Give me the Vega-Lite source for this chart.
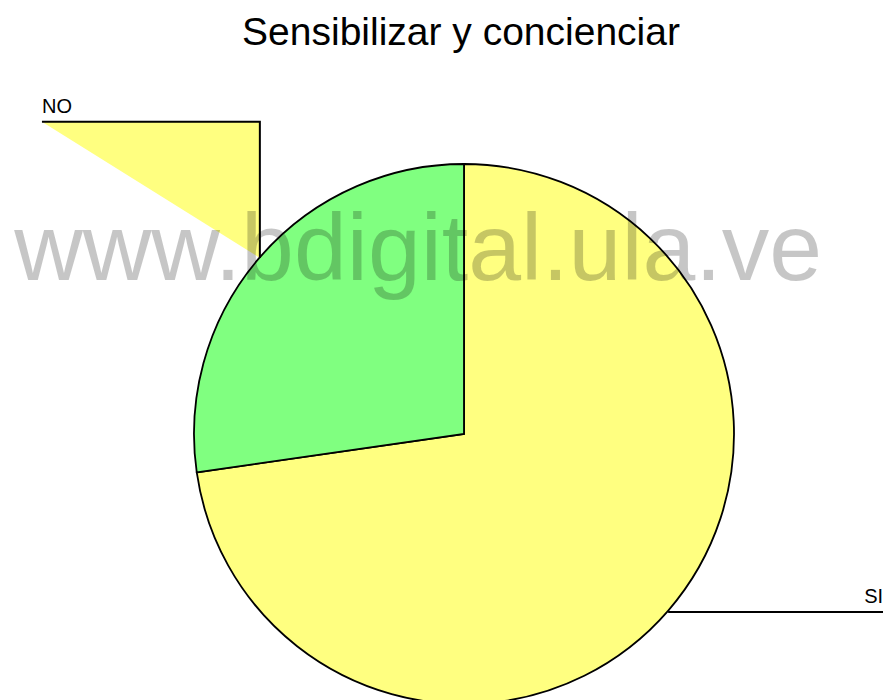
{
  "$schema": "https://vega.github.io/schema/vega-lite/v6.json",
  "autosize": {"type": "none"},
  "padding": {"left": 46, "top": 168, "right": 1, "bottom": 0},
  "width": 836,
  "height": 532,
  "background": "white",
  "title": {
    "text": "Sensibilizar y concienciar",
    "font": "Liberation Sans",
    "fontSize": 39,
    "fontWeight": "normal",
    "color": "black",
    "baseline": "alphabetic",
    "offset": 13,
    "dx": -3
  },
  "config": {"view": {"stroke": null}},
  "layer": [
    {
      "data": {"values": [
        {"respuesta": "SI", "n": 8},
        {"respuesta": "NO", "n": 3}
      ]},
      "mark": {"type": "arc", "radius": 270, "stroke": "black", "strokeWidth": 1.8},
      "encoding": {
        "theta": {"field": "n", "type": "quantitative", "stack": true},
        "color": {"field": "respuesta", "type": "nominal", "scale": {"domain": ["SI", "NO"], "range": ["#FFFF80", "#80FF80"]}, "legend": null},
        "order": {"field": "n", "type": "quantitative", "sort": "descending"}
      }
    },
    {
      "data": {"values": [
        {"u": -1.563, "v": 1.156, "v2": 1.156},
        {"u": -0.756, "v": 0.652, "v2": 1.156}
      ]},
      "mark": {"type": "area", "color": "#FFFF80", "opacity": 1},
      "encoding": {
        "x": {"field": "u", "type": "quantitative", "scale": {"domain": [-1.548, 1.548], "nice": false, "zero": false}, "axis": null},
        "y": {"field": "v", "type": "quantitative", "scale": {"domain": [-0.985, 0.985], "nice": false, "zero": false}, "axis": null},
        "y2": {"field": "v2"}
      }
    },
    {
      "data": {"values": [
        {"etiqueta": "NO", "k": 1, "u": -1.563, "v": 1.156},
        {"etiqueta": "NO", "k": 2, "u": -0.756, "v": 1.156},
        {"etiqueta": "NO", "k": 3, "u": -0.756, "v": 0.652},
        {"etiqueta": "SI", "k": 1, "u": 0.756, "v": -0.659},
        {"etiqueta": "SI", "k": 2, "u": 1.552, "v": -0.659}
      ]},
      "mark": {"type": "line", "color": "black", "strokeWidth": 2},
      "encoding": {
        "x": {"field": "u", "type": "quantitative", "scale": {"domain": [-1.548, 1.548], "nice": false, "zero": false}, "axis": null},
        "y": {"field": "v", "type": "quantitative", "scale": {"domain": [-0.985, 0.985], "nice": false, "zero": false}, "axis": null},
        "detail": {"field": "etiqueta", "type": "nominal"},
        "order": {"field": "k", "type": "quantitative"}
      }
    },
    {
      "data": {"values": [{"etiqueta": "NO", "u": -1.563, "v": 1.189}]},
      "mark": {"type": "text", "align": "left", "baseline": "alphabetic", "font": "Liberation Sans", "fontSize": 20, "color": "black"},
      "encoding": {
        "x": {"field": "u", "type": "quantitative", "scale": {"domain": [-1.548, 1.548], "nice": false, "zero": false}, "axis": null},
        "y": {"field": "v", "type": "quantitative", "scale": {"domain": [-0.985, 0.985], "nice": false, "zero": false}, "axis": null},
        "text": {"field": "etiqueta"}
      }
    },
    {
      "data": {"values": [{"etiqueta": "SI", "u": 1.552, "v": -0.626}]},
      "mark": {"type": "text", "align": "right", "baseline": "alphabetic", "font": "Liberation Sans", "fontSize": 20, "color": "black"},
      "encoding": {
        "x": {"field": "u", "type": "quantitative", "scale": {"domain": [-1.548, 1.548], "nice": false, "zero": false}, "axis": null},
        "y": {"field": "v", "type": "quantitative", "scale": {"domain": [-0.985, 0.985], "nice": false, "zero": false}, "axis": null},
        "text": {"field": "etiqueta"}
      }
    },
    {
      "data": {"values": [{"marca": "www.bdigital.ula.ve", "u": -0.170, "v": 0.570}]},
      "mark": {"type": "text", "align": "center", "baseline": "alphabetic", "font": "Liberation Sans", "fontSize": 95, "color": "black", "opacity": 0.22},
      "encoding": {
        "x": {"field": "u", "type": "quantitative", "scale": {"domain": [-1.548, 1.548], "nice": false, "zero": false}, "axis": null},
        "y": {"field": "v", "type": "quantitative", "scale": {"domain": [-0.985, 0.985], "nice": false, "zero": false}, "axis": null},
        "text": {"field": "marca"}
      }
    }
  ]
}
